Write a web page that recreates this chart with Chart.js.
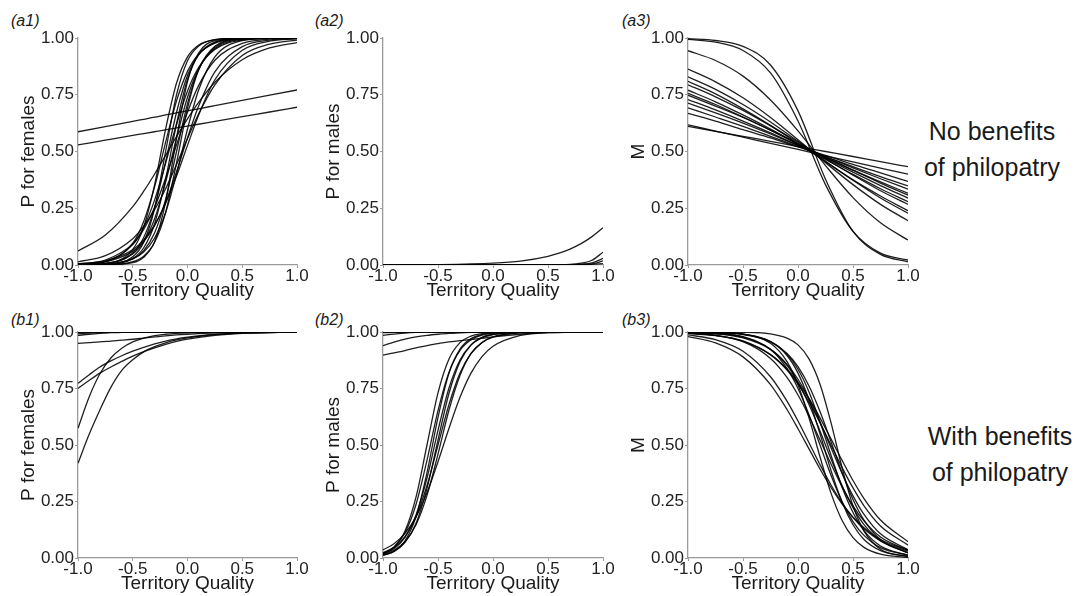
<!DOCTYPE html>
<html>
<head>
<meta charset="utf-8">
<script src="https://cdn.jsdelivr.net/npm/chart.js@4.4.1/dist/chart.umd.min.js"></script>
<style>
  html, body { margin: 0; padding: 0; background: #fff; }
  body { width: 1078px; height: 596px; position: relative; overflow: hidden;
         font-family: "Liberation Sans", Arial, sans-serif; color: #1a1a1a; }
  canvas { position: absolute; }
  .tag { position: absolute; font-style: italic; font-size: 16px; line-height: 18px; }
  .side { position: absolute; width: 170px; text-align: center; font-size: 25px; line-height: 36px; }
</style>
</head>
<body>
<div class="tag" style="left:11px;top:12px">(a1)</div>
<div class="tag" style="left:315px;top:12px">(a2)</div>
<div class="tag" style="left:622px;top:12px">(a3)</div>
<div class="tag" style="left:11px;top:311px">(b1)</div>
<div class="tag" style="left:315px;top:311px">(b2)</div>
<div class="tag" style="left:622px;top:311px">(b3)</div>
<div class="side" style="left:907px;top:113px">No benefits<br>of philopatry</div>
<div class="side" style="left:915px;top:418px">With benefits<br>of philopatry</div>

<script>
// tick positions shared by every panel
const xTicks = [-1, -0.5, 0, 0.5, 1]
const yTicks = [0, 0.25, 0.5, 0.75, 1]

// (a1) P for females, no benefits
const a1X = [-1, -0.75, -0.5, -0.4, -0.3, -0.2, -0.1, 0, 0.1, 0.25, 0.5, 0.75, 1]
const a1Curves = [
  [0.0005, 0.006, 0.069, 0.168, 0.354, 0.599, 0.802, 0.917, 0.968, 0.993, 0.999, 1, 1],
  [0.0002, 0.002, 0.036, 0.100, 0.250, 0.500, 0.750, 0.900, 0.964, 0.993, 1, 1, 1],
  [0.0006, 0.006, 0.053, 0.121, 0.254, 0.455, 0.673, 0.835, 0.926, 0.980, 0.998, 1, 1],
  [0.0002, 0.0025, 0.029, 0.076, 0.182, 0.378, 0.622, 0.818, 0.924, 0.982, 0.998, 1, 1],
  [0.001, 0.007, 0.049, 0.103, 0.204, 0.364, 0.560, 0.739, 0.863, 0.954, 0.994, 0.999, 1],
  [0.0003, 0.003, 0.027, 0.063, 0.142, 0.289, 0.500, 0.711, 0.858, 0.959, 0.995, 1, 1],
  [0.0001, 0.0012, 0.015, 0.039, 0.100, 0.231, 0.450, 0.690, 0.858, 0.964, 0.997, 1, 1],
  [0.0005, 0.004, 0.027, 0.057, 0.119, 0.231, 0.401, 0.599, 0.769, 0.917, 0.988, 0.998, 1],
  [0.003, 0.017, 0.090, 0.167, 0.287, 0.448, 0.620, 0.767, 0.869, 0.950, 0.991, 0.998, 1],
  [0.005, 0.022, 0.093, 0.157, 0.254, 0.382, 0.530, 0.673, 0.789, 0.902, 0.976, 0.995, 0.999],
  [0.003, 0.014, 0.060, 0.103, 0.174, 0.277, 0.411, 0.560, 0.698, 0.851, 0.962, 0.991, 0.998],
  [0.062, 0.132, 0.257, 0.325, 0.401, 0.483, 0.566, 0.644, 0.715, 0.805, 0.904, 0.956, 0.980],
  [0.014, 0.041, 0.116, 0.171, 0.244, 0.336, 0.443, 0.557, 0.664, 0.794, 0.923, 0.973, 0.991],
  [0.005, 0.018, 0.067, 0.110, 0.177, 0.271, 0.392, 0.527, 0.659, 0.816, 0.946, 0.986, 0.996],
  [0.002, 0.014, 0.096, 0.192, 0.345, 0.540, 0.723, 0.853, 0.928, 0.977, 0.997, 1, 1],
  [0, 0.0005, 0.010, 0.034, 0.103, 0.277, 0.560, 0.808, 0.933, 0.988, 0.999, 1, 1],
  [0.587, 0.610, 0.633, 0.642, 0.651, 0.661, 0.670, 0.679, 0.688, 0.702, 0.725, 0.748, 0.771],
  [0.529, 0.550, 0.571, 0.579, 0.587, 0.595, 0.604, 0.612, 0.620, 0.633, 0.654, 0.674, 0.695]
]

// (a2) P for males, no benefits
const a2X = [-1, -0.5, 0, 0.25, 0.5, 0.6, 0.7, 0.8, 0.9, 1]
const a2Curves = [
  [0.0003, 0.0016, 0.008, 0.017, 0.038, 0.052, 0.070, 0.094, 0.125, 0.164],
  [0, 0, 0, 0, 0.0002, 0.0007, 0.0024, 0.008, 0.021, 0.056],
  [0, 0, 0, 0, 0, 0.0001, 0.001, 0.0027, 0.009, 0.029],
  [0, 0, 0, 0, 0, 0, 0.0002, 0.001, 0.004, 0.018],
  [0, 0, 0, 0.0005, 0.001, 0.0015, 0.002, 0.003, 0.004, 0.006]
]

// (a3) M, no benefits
const a3X = [-1, -0.75, -0.5, -0.25, 0, 0.25, 0.5, 0.75, 1]
const a3Curves = [
  [0.997, 0.989, 0.963, 0.881, 0.679, 0.378, 0.148, 0.047, 0.014],
  [0.994, 0.982, 0.945, 0.846, 0.634, 0.354, 0.148, 0.052, 0.022],
  [0.944, 0.901, 0.832, 0.727, 0.591, 0.438, 0.297, 0.186, 0.110],
  [0.863, 0.807, 0.737, 0.650, 0.552, 0.451, 0.354, 0.267, 0.195],
  [0.829, 0.774, 0.707, 0.630, 0.545, 0.458, 0.373, 0.295, 0.228],
  [0.809, 0.754, 0.688, 0.615, 0.535, 0.455, 0.375, 0.304, 0.239],
  [0.794, 0.741, 0.681, 0.613, 0.542, 0.468, 0.396, 0.327, 0.267],
  [0.770, 0.719, 0.661, 0.599, 0.532, 0.465, 0.399, 0.336, 0.279],
  [0.756, 0.707, 0.652, 0.594, 0.532, 0.470, 0.409, 0.350, 0.295],
  [0.748, 0.700, 0.650, 0.594, 0.535, 0.475, 0.418, 0.361, 0.308],
  [0.729, 0.683, 0.634, 0.582, 0.527, 0.473, 0.418, 0.366, 0.316],
  [0.713, 0.670, 0.625, 0.577, 0.527, 0.478, 0.428, 0.380, 0.334],
  [0.692, 0.652, 0.611, 0.567, 0.522, 0.478, 0.433, 0.389, 0.348],
  [0.668, 0.634, 0.596, 0.560, 0.520, 0.483, 0.443, 0.406, 0.368],
  [0.617, 0.590, 0.563, 0.536, 0.509, 0.481, 0.454, 0.427, 0.400],
  [0.611, 0.589, 0.567, 0.545, 0.522, 0.500, 0.478, 0.455, 0.433]
]

// (b1) P for females, with benefits
const b1X = [-1, -0.9, -0.8, -0.7, -0.6, -0.5, -0.4, -0.3, -0.2, -0.1, 0, 0.25, 0.5, 1]
const b1Curves = [
  [0.419, 0.545, 0.655, 0.755, 0.830, 0.877, 0.912, 0.935, 0.952, 0.965, 0.974, 0.988, 0.995, 1],
  [0.574, 0.710, 0.815, 0.885, 0.928, 0.956, 0.973, 0.984, 0.990, 0.994, 0.996, 0.999, 1, 1],
  [0.773, 0.810, 0.845, 0.872, 0.895, 0.915, 0.932, 0.947, 0.960, 0.970, 0.977, 0.990, 0.996, 1],
  [0.750, 0.785, 0.818, 0.845, 0.870, 0.893, 0.913, 0.930, 0.945, 0.958, 0.968, 0.985, 0.994, 1],
  [0.950, 0.953, 0.956, 0.960, 0.964, 0.968, 0.973, 0.978, 0.983, 0.987, 0.990, 0.996, 0.998, 1],
  [0.985, 0.990, 0.994, 0.997, 0.998, 0.999, 1, 1, 1, 1, 1, 1, 1, 1],
  [0.993, 0.995, 0.997, 0.998, 0.999, 1, 1, 1, 1, 1, 1, 1, 1, 1],
  [0.998, 0.999, 1, 1, 1, 1, 1, 1, 1, 1, 1, 1, 1, 1],
  [1, 1, 1, 1, 1, 1, 1, 1, 1, 1, 1, 1, 1, 1]
]

// (b2) P for males, with benefits
const b2X = [-1, -0.9, -0.8, -0.7, -0.6, -0.5, -0.4, -0.3, -0.2, -0.1, 0, 0.25, 0.5, 1]
const b2Curves = [
  [0.018, 0.047, 0.119, 0.269, 0.500, 0.731, 0.881, 0.953, 0.982, 0.993, 0.998, 1, 1, 1],
  [0.020, 0.049, 0.112, 0.237, 0.433, 0.652, 0.822, 0.919, 0.965, 0.986, 0.994, 0.999, 1, 1],
  [0.011, 0.029, 0.076, 0.182, 0.378, 0.622, 0.818, 0.924, 0.971, 0.989, 0.996, 1, 1, 1],
  [0.018, 0.041, 0.091, 0.190, 0.354, 0.565, 0.752, 0.876, 0.943, 0.975, 0.989, 0.999, 1, 1],
  [0.012, 0.029, 0.069, 0.153, 0.308, 0.522, 0.729, 0.869, 0.942, 0.976, 0.990, 0.999, 1, 1],
  [0.023, 0.047, 0.095, 0.182, 0.321, 0.500, 0.679, 0.818, 0.905, 0.953, 0.977, 0.996, 0.999, 1],
  [0.015, 0.034, 0.072, 0.147, 0.277, 0.460, 0.655, 0.808, 0.904, 0.954, 0.979, 0.997, 1, 1],
  [0.036, 0.063, 0.109, 0.182, 0.289, 0.426, 0.574, 0.711, 0.818, 0.891, 0.937, 0.985, 0.997, 1],
  [0.898, 0.908, 0.918, 0.930, 0.940, 0.949, 0.956, 0.962, 0.967, 0.972, 0.978, 0.990, 0.997, 1],
  [0.940, 0.955, 0.968, 0.978, 0.985, 0.990, 0.994, 0.996, 0.998, 1, 1, 1, 1, 1],
  [0.985, 0.991, 0.995, 0.998, 1, 1, 1, 1, 1, 1, 1, 1, 1, 1],
  [0.997, 0.998, 0.999, 1, 1, 1, 1, 1, 1, 1, 1, 1, 1, 1],
  [1, 1, 1, 1, 1, 1, 1, 1, 1, 1, 1, 1, 1, 1]
]

// (b3) M, with benefits
const b3X = [-1, -0.75, -0.5, -0.25, -0.1, 0, 0.1, 0.2, 0.3, 0.4, 0.5, 0.6, 0.75, 1]
const b3Curves = [
  [0.980, 0.952, 0.890, 0.767, 0.657, 0.572, 0.483, 0.394, 0.312, 0.240, 0.181, 0.134, 0.082, 0.035],
  [0.987, 0.966, 0.915, 0.802, 0.694, 0.606, 0.510, 0.413, 0.323, 0.244, 0.179, 0.129, 0.076, 0.030],
  [1, 0.998, 0.991, 0.950, 0.869, 0.767, 0.620, 0.448, 0.287, 0.167, 0.090, 0.047, 0.017, 0.003],
  [0.999, 0.995, 0.979, 0.923, 0.839, 0.750, 0.634, 0.500, 0.366, 0.250, 0.161, 0.100, 0.046, 0.012],
  [1, 0.998, 0.991, 0.958, 0.896, 0.818, 0.700, 0.550, 0.387, 0.248, 0.147, 0.082, 0.033, 0.007],
  [0.998, 0.993, 0.977, 0.924, 0.852, 0.777, 0.679, 0.562, 0.438, 0.321, 0.223, 0.148, 0.076, 0.023],
  [1, 0.998, 0.990, 0.958, 0.902, 0.835, 0.735, 0.603, 0.455, 0.314, 0.201, 0.121, 0.053, 0.012],
  [0.997, 0.992, 0.974, 0.923, 0.857, 0.791, 0.705, 0.601, 0.488, 0.375, 0.275, 0.193, 0.107, 0.037],
  [0.999, 0.997, 0.989, 0.956, 0.905, 0.847, 0.761, 0.648, 0.515, 0.378, 0.259, 0.168, 0.082, 0.022],
  [0.994, 0.984, 0.959, 0.900, 0.836, 0.777, 0.705, 0.620, 0.527, 0.433, 0.343, 0.263, 0.168, 0.072],
  [1, 1, 0.999, 0.992, 0.973, 0.943, 0.881, 0.769, 0.599, 0.401, 0.231, 0.119, 0.039, 0.005],
  [0.995, 0.985, 0.957, 0.883, 0.799, 0.721, 0.627, 0.522, 0.416, 0.316, 0.231, 0.164, 0.093, 0.034],
  [0.994, 0.985, 0.961, 0.900, 0.832, 0.769, 0.690, 0.599, 0.500, 0.401, 0.310, 0.231, 0.142, 0.057]
]

const FONT = "'Liberation Sans', Arial, sans-serif"
const AXIS_GREY = "#9a9a9a"

// plot-area edges in page pixels
const colLeft = [78, 383, 688]
const colWidth = [219, 220, 220]
const rowTop = [38, 332]
const rowBottom = [265, 558]

function panel(col, row, xs, curves, yTitle) {
  const padTop = 18, padRight = 20, yAxisW = 78, xAxisH = 37
  const canvas = document.createElement("canvas")
  const left = colLeft[col] - yAxisW
  const top = rowTop[row] - padTop
  const w = yAxisW + colWidth[col] + padRight
  const h = rowBottom[row] + xAxisH - top
  canvas.width = w
  canvas.height = h
  canvas.style.left = left + "px"
  canvas.style.top = top + "px"
  document.body.appendChild(canvas)

  const datasets = curves.map((ys) => ({
    data: ys.map((y, i) => ({ x: xs[i], y })),
    borderColor: "rgba(0,0,0,0.88)",
    borderWidth: 1.3,
    pointRadius: 0,
    fill: false,
    cubicInterpolationMode: "monotone"
  }))

  const tickFont = { family: FONT, size: 17 }
  const titleFont = { family: FONT, size: 19 }

  new Chart(canvas, {
    type: "line",
    data: { datasets },
    options: {
      responsive: false,
      animation: false,
      devicePixelRatio: 1,
      layout: { padding: { top: padTop, right: padRight, left: 0, bottom: 0 } },
      plugins: { legend: { display: false }, tooltip: { enabled: false } },
      scales: {
        x: {
          type: "linear",
          min: -1,
          max: 1,
          afterBuildTicks: (s) => { s.ticks = xTicks.map((v) => ({ value: v })) },
          afterFit: (s) => { s.height = xAxisH },
          ticks: { callback: (v) => Number(v).toFixed(1), color: "#222", font: tickFont, padding: -2, maxRotation: 0, autoSkip: false },
          grid: { drawOnChartArea: false, tickLength: 3, color: AXIS_GREY },
          border: { color: AXIS_GREY, width: 1.3 },
          title: { display: true, text: "Territory Quality", color: "#1a1a1a", font: titleFont, padding: { top: 0, bottom: 0 } }
        },
        y: {
          min: 0,
          max: 1,
          afterBuildTicks: (s) => { s.ticks = yTicks.map((v) => ({ value: v })) },
          afterFit: (s) => { s.width = yAxisW },
          ticks: { callback: (v) => Number(v).toFixed(2), color: "#222", font: tickFont, padding: 1, autoSkip: false },
          grid: { drawOnChartArea: false, tickLength: 3, color: AXIS_GREY },
          border: { color: AXIS_GREY, width: 1.3 },
          title: { display: true, text: yTitle, color: "#1a1a1a", font: titleFont, padding: { top: 17, bottom: 0 } }
        }
      }
    }
  })
}

panel(0, 0, a1X, a1Curves, "P for females")
panel(1, 0, a2X, a2Curves, "P for males")
panel(2, 0, a3X, a3Curves, "M")
panel(0, 1, b1X, b1Curves, "P for females")
panel(1, 1, b2X, b2Curves, "P for males")
panel(2, 1, b3X, b3Curves, "M")
</script>
</body>
</html>
